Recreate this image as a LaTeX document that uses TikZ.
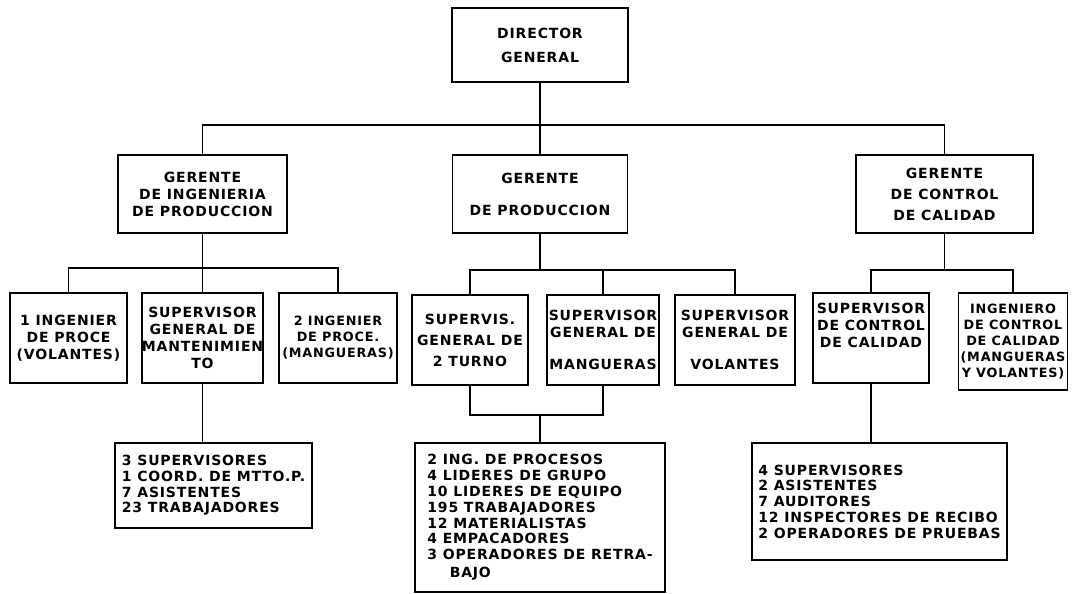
\documentclass[tikz,border=0pt]{standalone}
\usepackage{fontspec}
\setmainfont[LetterSpace=6]{DejaVu Sans}
\usetikzlibrary{positioning}

\tikzset{
  box/.style={draw, line width=1.7pt, inner sep=0pt, align=center,
    font=\bfseries\fontsize{14}{17}\selectfont},
  tight/.style={font=\bfseries\fontsize{12.8}{16}\selectfont},
  list/.style={box, align=left,
    font=\bfseries\fontsize{14}{15.8}\selectfont},
  wire/.style={line width=1.7pt}
}

\begin{document}
\begin{tikzpicture}[x=1pt,y=-1pt]
   \useasboundingbox (0,0) rectangle (1074,594);
   % nivel 1 y 2
   \node[box,minimum width=176,minimum height=74] (dir) at (540,45)
        {DIRECTOR\\[7pt]GENERAL};
   \node[box,minimum width=169,minimum height=78] (geing) at (202.5,194)
        {GERENTE\\DE INGENIERIA\\DE PRODUCCION};
   \node[box,minimum width=175,minimum height=78] (geprod) at (540,194)
        {GERENTE\\[15pt]DE PRODUCCION};
   \node[box,minimum width=177,minimum height=78] (gecc) at (944.5,194)
        {GERENTE\\[4pt]DE CONTROL\\[4pt]DE CALIDAD};
   % jefes
   \node[box,minimum width=117,minimum height=90] (ingvol) at (68.5,338)
        {1 INGENIER\\DE PROCE\\(VOLANTES)};
   \node[box,minimum width=120,minimum height=90] (supmant) at (202.5,338)
        {SUPERVISOR\\GENERAL DE\\MANTENIMIEN\\TO};
   \node[box,tight,minimum width=118,minimum height=90] (ingmang) at (338,338)
        {2 INGENIER\\DE PROCE.\\(MANGUERAS)};
   \node[box,minimum width=116,minimum height=90] (supturno) at (470,340)
        {SUPERVIS.\\[4pt]GENERAL DE\\[4pt]2 TURNO};
   \node[box,minimum width=112,minimum height=90] (supmang) at (603,340)
        {SUPERVISOR\\GENERAL DE\\[15pt]MANGUERAS};
   \node[box,minimum width=120,minimum height=90] (supvol) at (735,340)
        {SUPERVISOR\\GENERAL DE\\[15pt]VOLANTES};
   \node[box,minimum width=116,minimum height=90] (supcc) at (871,338)
        {SUPERVISOR\\DE CONTROL\\DE CALIDAD\\[8pt]\mbox{}};
   \node[box,tight,minimum width=109,minimum height=97] (ingcc) at (1013,341.5)
        {INGENIERO\\DE CONTROL\\DE CALIDAD\\(MANGUERAS\\Y VOLANTES)};
   % personal
   \node[list,minimum width=197,minimum height=85] (persing) at (213.5,485.5)
        {3 SUPERVISORES\\1 COORD. DE MTTO.P.\\7 ASISTENTES\\23 TRABAJADORES};
   \node[list,minimum width=250,minimum height=149] (persprod) at (540,517.5)
        {2 ING. DE PROCESOS\\4 LIDERES DE GRUPO\\10 LIDERES DE EQUIPO\\195 TRABAJADORES\\12 MATERIALISTAS\\4 EMPACADORES\\3 OPERADORES DE RETRA-\\[2pt]\hspace*{1.6em}BAJO};
   \node[list,minimum width=255,minimum height=117] (perscc) at (879.5,501.5)
        {4 SUPERVISORES\\2 ASISTENTES\\7 AUDITORES\\12 INSPECTORES DE RECIBO\\2 OPERADORES DE PRUEBAS};
   % lineas
   \coordinate (b0) at (540,125);
   \coordinate (b1) at (202.5,268);
   \coordinate (b2) at (540,270);
   \coordinate (b3) at (540,415);
   \coordinate (b4) at (944.5,270);
   \draw[wire] (dir) -- (b0);
   \draw[wire] (geing.north) |- (b0) -| (gecc.north);
   \draw[wire] (b0) -- (geprod);
   \draw[wire] (geing) -- (supmant);
   \draw[wire] (ingvol.north) |- (b1) -| (ingmang.north);
   \draw[wire] (geprod) -- (b2);
   \draw[wire] (supturno.north) |- (b2) -| (supvol.north);
   \draw[wire] (b2 -| supmang.north) -- (supmang.north);
   \draw[wire] (gecc) -- (b4);
   \draw[wire] (supcc.north) |- (b4) -| (ingcc.north);
   \draw[wire] (supturno.south) |- (b3) -| (supmang.south);
   \draw[wire] (b3) -- (persprod);
   \draw[wire] (supmant.south) -- (supmant.south |- persing.north);
   \draw[wire] (supcc.south) -- (supcc.south |- perscc.north);
\end{tikzpicture}
\end{document}
